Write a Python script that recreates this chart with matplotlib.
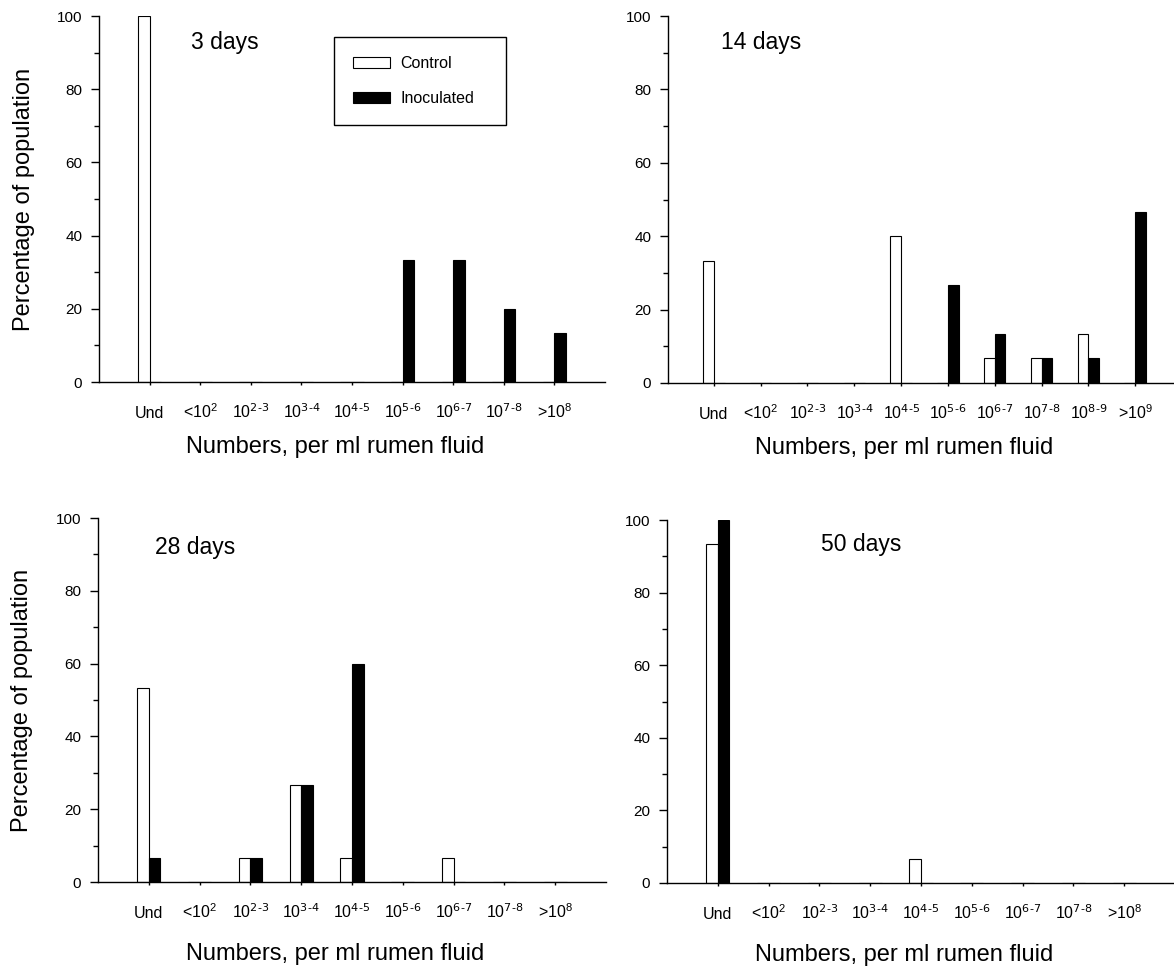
import numpy as np
import matplotlib
matplotlib.use('Agg')
import matplotlib.pyplot as plt
from matplotlib.ticker import MultipleLocator

plt.rcParams['font.family'] = ['Liberation Sans', 'DejaVu Sans']
plt.rcParams['mathtext.default'] = 'regular'

# categories (numbers per ml rumen fluid)
cats9 = ['Und', '<10$^2$', r'10$^{\text{2-3}}$', r'10$^{\text{3-4}}$', r'10$^{\text{4-5}}$',
         r'10$^{\text{5-6}}$', r'10$^{\text{6-7}}$', r'10$^{\text{7-8}}$', '>10$^8$']
cats10 = ['Und', '<10$^2$', r'10$^{\text{2-3}}$', r'10$^{\text{3-4}}$', r'10$^{\text{4-5}}$',
          r'10$^{\text{5-6}}$', r'10$^{\text{6-7}}$', r'10$^{\text{7-8}}$', r'10$^{\text{8-9}}$', '>10$^9$']

# percentage of population
control_3 = [100, 0, 0, 0, 0, 0, 0, 0, 0]
inoc_3 = [0, 0, 0, 0, 0, 33.3, 33.3, 20, 13.3]
control_14 = [33.3, 0, 0, 0, 40, 0, 6.7, 6.7, 13.3, 0]
inoc_14 = [0, 0, 0, 0, 0, 26.7, 13.3, 6.7, 6.7, 46.7]
control_28 = [53.3, 0, 6.7, 26.7, 6.7, 0, 6.7, 0, 0]
inoc_28 = [6.7, 0, 6.7, 26.7, 60, 0, 0, 0, 0]
control_50 = [93.3, 0, 0, 0, 6.7, 0, 0, 0, 0]
inoc_50 = [100, 0, 0, 0, 0, 0, 0, 0, 0]

W, H = 1174, 967
fig = plt.figure(figsize=(W / 100, H / 100), dpi=100)

def px_axes(l, r, t, b):
    return fig.add_axes([l / W, 1 - b / H, (r - l) / W, (b - t) / H])

panels = [
    # (left, right, top, bottom), xlim, cats, control, inoc, title, title pos, left panel?, xlabel y
    ((99, 605, 16, 382), (-1.0, 9.0), cats9, control_3, inoc_3, '3 days', (0.182, 0.910), True, -0.194),
    ((668, 1174, 16, 383), (-0.98, 9.83), cats10, control_14, inoc_14, '14 days', (0.105, 0.910), False, -0.194),
    ((98, 606, 518, 882), (-1.0, 9.0), cats9, control_28, inoc_28, '28 days', (0.112, 0.901), True, -0.214),
    ((667, 1174, 520, 883), (-1.0, 8.98), cats9, control_50, inoc_50, '50 days', (0.304, 0.915), False, -0.214),
]

w = 0.23
first = None
for box, xlim, cats, ctrl, inoc, title, tpos, left, xl_y in panels:
    ax = px_axes(*box)
    x = np.arange(len(cats))
    b1 = ax.bar(x - w, ctrl, width=w, align='edge', color='white', edgecolor='black', linewidth=0.8,
                label='Control')
    b2 = ax.bar(x, inoc, width=w, align='edge', color='black', edgecolor='black', linewidth=0.8,
                label='Inoculated')
    if first is None:
        first = (ax, b1, b2)
    ax.set_xlim(*xlim)
    ax.set_ylim(0, 100)
    ax.spines['top'].set_visible(False)
    ax.spines['right'].set_visible(False)
    ax.spines['left'].set_linewidth(1.0)
    ax.spines['bottom'].set_linewidth(1.0)
    ax.set_yticks([0, 20, 40, 60, 80, 100])
    ax.yaxis.set_minor_locator(MultipleLocator(10))
    ax.tick_params(axis='y', which='major', length=6, width=1.0, labelsize=11, pad=6)
    ax.tick_params(axis='y', which='minor', length=3.5, width=1.0)
    ax.set_xticks(x)
    ax.set_xticklabels(cats)
    ax.tick_params(axis='x', length=2, width=1.0, labelsize=11.5, pad=24)
    for lab in ax.get_xticklabels():
        lab.set_verticalalignment('baseline')
    ax.set_xlabel('Numbers, per ml rumen fluid', fontsize=17)
    ax.xaxis.set_label_coords(0.467, xl_y)
    ax.xaxis.label.set_verticalalignment('baseline')
    if left:
        ax.set_ylabel('Percentage of population', fontsize=17)
        ax.yaxis.set_label_coords(-0.137, 0.5)
        ax.yaxis.label.set_verticalalignment('baseline')
    ax.text(tpos[0], tpos[1], title, transform=ax.transAxes, fontsize=16.5, ha='left', va='baseline')

ax0, b1, b2 = first
leg = fig.legend([b1, b2], ['Control', 'Inoculated'], loc='upper left',
                 bbox_to_anchor=(334 / W, 1 - 120 / H, 172 / W, 83 / H), mode='expand',
                 borderaxespad=0, fancybox=False, shadow=False, fontsize=11.5,
                 handlelength=2.3, handleheight=0.62, handletextpad=0.65,
                 labelspacing=1.25, borderpad=1.2, frameon=True)
leg.get_frame().set_edgecolor('black')
leg.get_frame().set_linewidth(1.0)
leg.get_frame().set_alpha(None)

fig.savefig('out.png', dpi=100)
